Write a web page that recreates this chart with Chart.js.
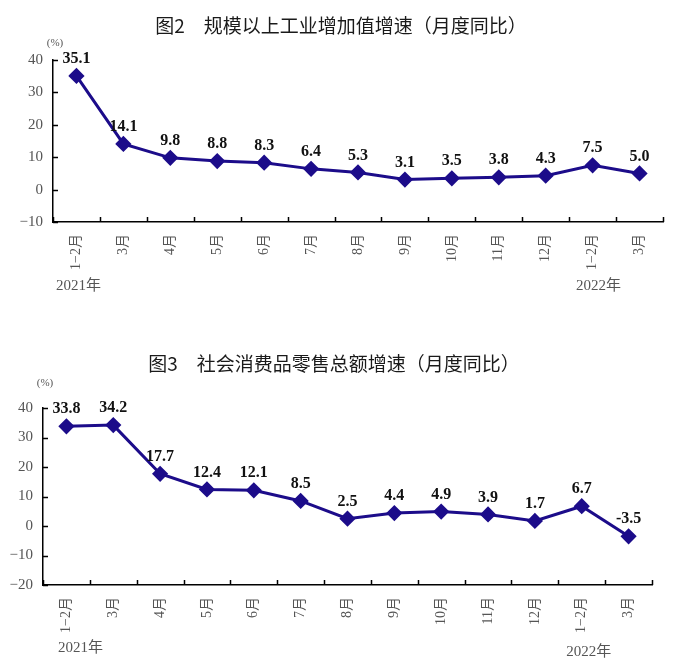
<!DOCTYPE html>
<html>
<head>
<meta charset="utf-8">
<script src="https://cdn.jsdelivr.net/npm/chart.js@4.4.1/dist/chart.umd.min.js"></script>
<style>
  html,body{margin:0;padding:0;background:#fff;}
  #wrap{position:relative;width:674px;height:672px;}
  canvas{position:absolute;left:0;}
  #c1{top:0;}
  #c2{top:330px;}
</style>
</head>
<body>
<div id="wrap">
  <canvas id="c1" width="674" height="300"></canvas>
  <canvas id="c2" width="674" height="342"></canvas>
</div>
<script>
// chart data
const months = ["1−2月","3月","4月","5月","6月","7月","8月","9月","10月","11月","12月","1−2月","3月"];
const industryGrowth = [35.1,14.1,9.8,8.8,8.3,6.4,5.3,3.1,3.5,3.8,4.3,7.5,5.0];
const retailGrowth = [33.8,34.2,17.7,12.4,12.1,8.5,2.5,4.4,4.9,3.9,1.7,6.7,-3.5];
const industryTicks = [-10,0,10,20,30,40];
const retailTicks = [-20,-10,0,10,20,30,40];
const yearLabels = ["2021年","2022年"];

const LINE = "#1c0c8a";
const SERIF = "'Liberation Serif','Times New Roman',serif";
const CJK = "'Noto Sans CJK SC','Noto Sans',sans-serif";

// titles, unit, year labels, inward tick marks and value labels
const decor = {
  id:"decor",
  afterDraw(chart, args, o){
    const ctx = chart.ctx, x = chart.scales.x, y = chart.scales.y, a = chart.chartArea;
    ctx.save();
    ctx.strokeStyle = "#000"; ctx.lineWidth = 1.5;
    ctx.beginPath();
    o.ticks.forEach(v=>{ const py = Math.round(y.getPixelForValue(v))+0.5; ctx.moveTo(a.left, py); ctx.lineTo(a.left+5, py); });
    const w = x.getPixelForValue(1) - x.getPixelForValue(0);
    for(let i=0;i<=months.length;i++){
      const px = Math.round(x.getPixelForValue(i) - w/2)+0.5;
      ctx.moveTo(px, a.bottom); ctx.lineTo(px, a.bottom-5);
    }
    ctx.stroke();

    ctx.fillStyle = "#1a1a1a"; ctx.textAlign = "center"; ctx.textBaseline = "middle";
    ctx.font = "19px " + CJK;
    ctx.fillText(o.title, o.titleX, o.titleY);

    ctx.fillStyle = "#555"; ctx.font = "11px " + SERIF;
    ctx.fillText("(%)", o.unitX, o.unitY);

    ctx.font = "15px " + SERIF + ", " + CJK;
    ctx.fillText(yearLabels[0], x.getPixelForValue(0) + o.yearDx[0], o.yearY[0]);
    ctx.fillText(yearLabels[1], x.getPixelForValue(11) + o.yearDx[1], o.yearY[1]);

    ctx.fillStyle = "#111"; ctx.font = "bold 16px " + SERIF;
    const meta = chart.getDatasetMeta(0);
    chart.data.datasets[0].data.forEach((v,i)=>{
      const p = meta.data[i];
      ctx.fillText(v.toFixed(1), p.x, p.y - 17);
    });
    ctx.restore();
  }
};

function makeChart(id, data, ticks, min, max, cfg){
  return new Chart(document.getElementById(id), {
    type:"line",
    data:{ labels: months, datasets:[{
      data, borderColor: LINE, backgroundColor: LINE, borderWidth: 3,
      pointStyle:"rectRot", pointRadius: 6, pointBackgroundColor: LINE, pointBorderColor: LINE, tension: 0
    }]},
    options:{
      responsive:false, animation:false, devicePixelRatio:1,
      layout:{ padding:{ top: cfg.top, right: cfg.right, left:0, bottom:0 } },
      plugins:{ legend:{display:false}, tooltip:{enabled:false}, decor: cfg },
      scales:{
        x:{
          offset:true,
          grid:{ display:false, drawTicks:false },
          border:{ display:true, color:"#000", width:1.5 },
          ticks:{ color:"#555", font:{ family: SERIF + ", " + CJK, size:14 }, maxRotation:90, minRotation:90, padding:12, autoSkip:false },
          afterFit: s=>{ s.height = cfg.xHeight; }
        },
        y:{
          min, max,
          afterBuildTicks: s=>{ s.ticks = ticks.map(v=>({value:v})); },
          grid:{ display:false, drawTicks:false },
          border:{ display:true, color:"#000", width:1.5 },
          ticks:{ color:"#555", font:{ family: SERIF, size:15 }, padding:10, callback: v=> v<0 ? "−"+Math.abs(v) : String(v) },
          afterFit: s=>{ s.width = cfg.yWidth; }
        }
      }
    },
    plugins:[decor]
  });
}

makeChart("c1", industryGrowth, industryTicks, -10, 40, {
  top:60, right:11, xHeight:78, yWidth:53,
  title:"图2　规模以上工业增加值增速（月度同比）", titleX:341, titleY:26,
  unitX:55, unitY:43, yearY:[286,286], yearDx:[2,6], ticks: industryTicks
});
makeChart("c2", retailGrowth, retailTicks, -20, 40, {
  top:78, right:22, xHeight:87, yWidth:43,
  title:"图3　社会消费品零售总额增速（月度同比）", titleX:334, titleY:34,
  unitX:45, unitY:53, yearY:[318,322], yearDx:[14,7], ticks: retailTicks
});
</script>
</body>
</html>
